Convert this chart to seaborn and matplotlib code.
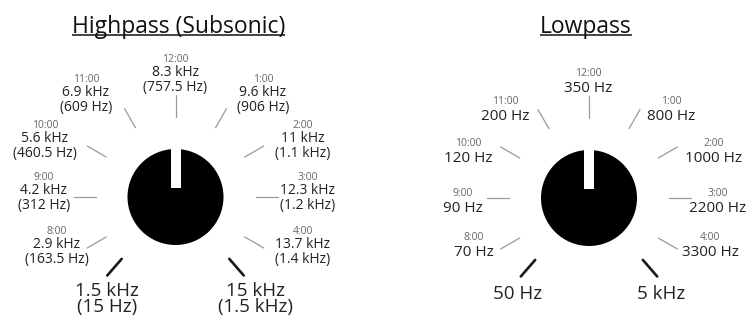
import numpy as np
import pandas as pd
import matplotlib
matplotlib.use("Agg")
import matplotlib.pyplot as plt
from matplotlib.patches import Circle, Rectangle
import seaborn as sns

# ---------------- data ----------------
titles = ["Highpass (Subsonic)", "Lowpass"]
clock_labels = ["8:00", "9:00", "10:00", "11:00", "12:00", "1:00", "2:00", "3:00", "4:00"]
clock_hours = [8, 9, 10, 11, 12, 1, 2, 3, 4]
hp_freq = ["2.9 kHz", "4.2 kHz", "5.6 kHz", "6.9 kHz", "8.3 kHz", "9.6 kHz", "11 kHz", "12.3 kHz", "13.7 kHz"]
hp_freq_sub = ["(163.5 Hz)", "(312 Hz)", "(460.5 Hz)", "(609 Hz)", "(757.5 Hz)", "(906 Hz)", "(1.1 kHz)", "(1.2 kHz)", "(1.4 kHz)"]
hp_min = ["1.5 kHz", "(15 Hz)"]
hp_max = ["15 kHz", "(1.5 kHz)"]
lp_freq = ["70 Hz", "90 Hz", "120 Hz", "200 Hz", "350 Hz", "800 Hz", "1000 Hz", "2200 Hz", "3300 Hz"]
lp_min = ["50 Hz"]
lp_max = ["5 kHz"]
end_angle = 139  # degrees from 12:00 for the min / max stops

# ---------------- layout ----------------
W, H = 750, 316
knob_centers = [(175.5, 197.0), (589.0, 198.0)]
knob_r = 48
title_pos = [(178.5, 33), (586, 33)]
# label anchors (x centre, baseline of first value line), per clock position
hp_label_pos = [(57, 248), (44, 194), (45, 142), (86, 96), (175.5, 76),
                (263, 96), (303, 142), (308, 194), (303, 248)]
lp_label_pos = [(474, 256.5), (463, 212.5), (468, 162.5), (505, 119.5), (588, 92.5),
                (671, 119.5), (714, 162.5), (718, 212.5), (710, 256.5)]
hp_end_pos = [(107, 296.5), (255, 296.5)]
lp_end_pos = [(518, 299), (661, 299)]

sns.set_theme(style="white")
plt.rcParams["font.family"] = ["Open Sans", "DejaVu Sans"]

fig = plt.figure(figsize=(7.5, 3.16), dpi=100)
ax = fig.add_axes([0, 0, 1, 1])

def hour_angle(h):
    a = (h % 12) * 30
    return a - 360 if a > 180 else a

thin_rows, thick_rows = [], []
for k, (cx, cy) in enumerate(knob_centers):
    for i, h in enumerate(clock_hours):
        t = np.deg2rad(hour_angle(h))
        for r in (80, 102):
            thin_rows.append({"x": cx + r * np.sin(t), "y": cy - r * np.cos(t), "u": f"{k}-{i}"})
    for j, a in enumerate((-end_angle, end_angle)):
        t = np.deg2rad(a)
        for r in (82, 104):
            thick_rows.append({"x": cx + r * np.sin(t), "y": cy - r * np.cos(t), "u": f"{k}-e{j}"})

thin_df = pd.DataFrame(thin_rows)
thick_df = pd.DataFrame(thick_rows)
sns.lineplot(data=thin_df, x="x", y="y", units="u", estimator=None, sort=False,
             color="#9a9a9a", linewidth=0.9, ax=ax)
sns.lineplot(data=thick_df, x="x", y="y", units="u", estimator=None, sort=False,
             color="#1a1a1a", linewidth=1.9, ax=ax)
ax.set_xlim(0, W)
ax.set_ylim(H, 0)
ax.set_aspect("equal")
ax.axis("off")

# knobs
for cx, cy in knob_centers:
    ax.add_patch(Circle((cx, cy), knob_r, facecolor="black", edgecolor="none", zorder=3))
    ax.add_patch(Rectangle((cx - 5, cy - knob_r - 1), 10, knob_r - 8, facecolor="white",
                           edgecolor="none", zorder=4))

small_kw = dict(fontsize=7.5, color="#666666", ha="center", va="baseline")
val_kw = dict(fontsize=10, color="#222222", ha="center", va="baseline")

# highpass labels
for i, (x, y) in enumerate(hp_label_pos):
    ax.text(x, y - 14.5, clock_labels[i], **small_kw)
    ax.text(x, y, hp_freq[i], **val_kw)
    ax.text(x, y + 14.5, hp_freq_sub[i], **val_kw)

fig.canvas.draw()
renderer = fig.canvas.get_renderer()
inv = ax.transData.inverted()

for (x, y), lab in zip(hp_end_pos, (hp_min, hp_max)):
    # two-line block; shift so that the first line's baseline sits at y
    t = ax.text(x, y, "\n".join(lab), fontsize=13.5, color="#222222", ha="center",
                va="top", multialignment="center", linespacing=0.85)
    ref = ax.text(x, y, lab[0], fontsize=13.5, color="#222222", ha="center", va="top")
    bb = ref.get_window_extent(renderer=renderer)
    ref2 = ax.text(x, y, lab[0], fontsize=13.5, ha="center", va="baseline")
    bb2 = ref2.get_window_extent(renderer=renderer)
    d = (bb.y1 - bb2.y1)  # pixels between top-anchored and baseline-anchored
    ref.remove(); ref2.remove()
    t.set_y(y + d)

# lowpass labels
val_kw_lp = dict(val_kw, fontsize=11)
for i, (x, y) in enumerate(lp_label_pos):
    ax.text(x, y - 16, clock_labels[i], **small_kw)
    ax.text(x, y, lp_freq[i], **val_kw_lp)
for (x, y), lab in zip(lp_end_pos, (lp_min, lp_max)):
    ax.text(x, y, lab[0], fontsize=13.5, color="#222222", ha="center", va="baseline")

# titles with underline
for (x, y), tt in zip(title_pos, titles):
    txt = ax.text(x, y, tt, fontsize=16.5, color="#111111", ha="center", va="baseline")
    bb = txt.get_window_extent(renderer=renderer)
    (x0, _), (x1, _) = inv.transform([(bb.x0, 0), (bb.x1, 0)])
    ax.plot([x0, x1], [y + 1.6, y + 1.6], color="#111111", linewidth=1.1, solid_capstyle="butt")

fig.savefig("out.png", dpi=100, facecolor="white")
